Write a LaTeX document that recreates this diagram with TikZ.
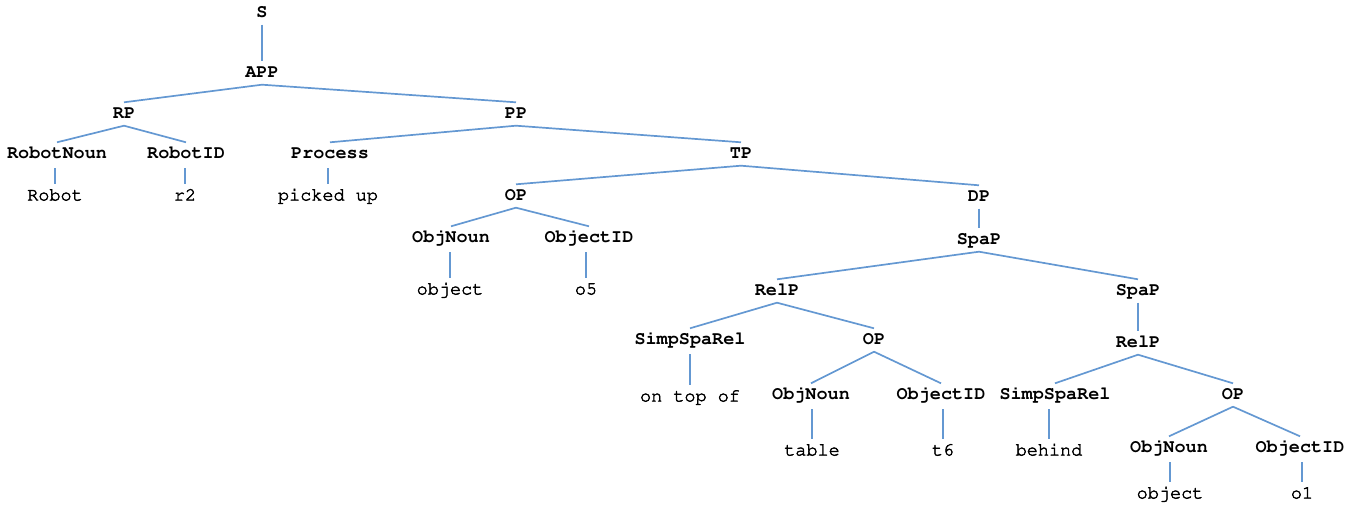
\documentclass[tikz,border=0pt]{standalone}
\usepackage[T1]{fontenc}
\usepackage{courier}
\definecolor{edgeblue}{RGB}{100,152,210}
% slightly heavier strokes for the plain-weight words
\newcommand{\heavytext}[1]{\special{pdf:literal direct 2 Tr 0.45 w}#1\special{pdf:literal direct 0 Tr}}
\begin{document}
\begin{tikzpicture}[x=1pt,y=-1pt,
  every node/.style={font=\ttfamily\fontsize{18.5}{20}\selectfont,
    text height=12pt,text depth=3pt,inner xsep=2pt,inner ysep=4pt,anchor=center},
  cat/.style={font=\ttfamily\bfseries\fontsize{18.5}{20}\selectfont},
  word/.style={},
  branch/.style={draw=edgeblue,line width=1.7pt}]
\useasboundingbox (0,0) rectangle (1365,505);
% categories
\node[cat] (s) at (262,13) {S};
\node[cat] (app) at (262,73) {APP};
\node[cat] (rp) at (124,114) {RP};
\node[cat] (pp) at (516,114) {PP};
\node[cat] (rnoun) at (57,154) {RobotNoun};
\node[cat] (rid) at (186,154) {RobotID};
\node[cat] (proc) at (330,154) {Process};
\node[cat] (tp) at (741,154) {TP};
\node[cat] (op1) at (516,196) {OP};
\node[cat] (dp) at (979,197) {DP};
\node[cat] (on1) at (451,238) {ObjNoun};
\node[cat] (oid1) at (589,238) {ObjectID};
\node[cat] (spa1) at (979,240) {SpaP};
\node[cat] (rel1) at (777,291) {RelP};
\node[cat] (spa2) at (1138,291) {SpaP};
\node[cat] (ssr1) at (690,340) {SimpSpaRel};
\node[cat] (op2) at (874,340) {OP};
\node[cat] (rel2) at (1138,343) {RelP};
\node[cat] (on2) at (811,395) {ObjNoun};
\node[cat] (oid2) at (941,395) {ObjectID};
\node[cat] (ssr2) at (1055,395) {SimpSpaRel};
\node[cat] (op3) at (1233,395) {OP};
\node[cat] (on3) at (1169,448) {ObjNoun};
\node[cat] (oid3) at (1300,448) {ObjectID};
% words
\node[word] (w1) at (55,196) {\heavytext{Robot}};
\node[word] (w2) at (185,196) {\heavytext{r2}};
\node[word] (w3) at (328,196) {\heavytext{picked up}};
\node[word] (w4) at (450,290) {\heavytext{object}};
\node[word] (w5) at (586,290) {\heavytext{o5}};
\node[word] (w6) at (690,397) {\heavytext{on top of}};
\node[word] (w7) at (812,451) {\heavytext{table}};
\node[word] (w8) at (943,451) {\heavytext{t6}};
\node[word] (w9) at (1049,451) {\heavytext{behind}};
\node[word] (w10) at (1170,494) {\heavytext{object}};
\node[word] (w11) at (1302,494) {\heavytext{o1}};
% branches between categories
\foreach \p/\c in {s/app, app/rp, app/pp, rp/rnoun, rp/rid, pp/proc, pp/tp,
  tp/op1, tp/dp, op1/on1, op1/oid1, dp/spa1, spa1/rel1, spa1/spa2,
  rel1/ssr1, rel1/op2, spa2/rel2, op2/on2, op2/oid2, rel2/ssr2, rel2/op3,
  op3/on3, op3/oid3}
  \draw[branch] (\p.south) -- (\c.north);
% vertical stems down to the words
\foreach \p/\c in {rnoun/w1, rid/w2, proc/w3, on1/w4, oid1/w5, ssr1/w6,
  on2/w7, oid2/w8, ssr2/w9, on3/w10, oid3/w11}
  \draw[branch] ([yshift=-2.5pt]\c.north |- \p.south) -- (\c.north);
\end{tikzpicture}
\end{document}
